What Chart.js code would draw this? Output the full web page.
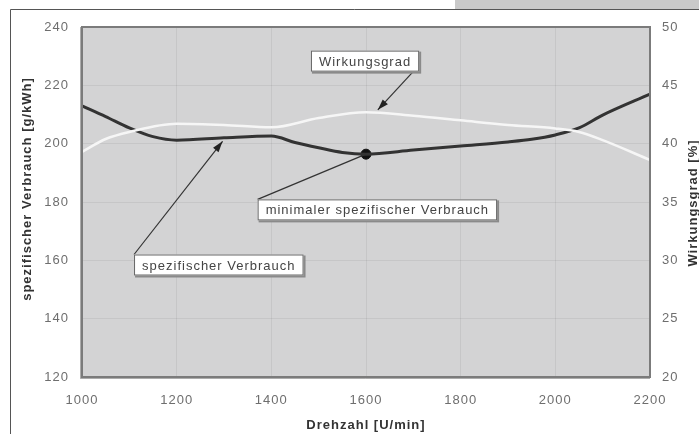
<!DOCTYPE html>
<html>
<head>
<meta charset="utf-8">
<script src="https://cdn.jsdelivr.net/npm/chart.js@4/dist/chart.umd.min.js"></script>
<style>
  html, body { margin: 0; padding: 0; background: #fff; }
  #wrap { position: relative; width: 699px; height: 434px; }
</style>
</head>
<body>
<div id="wrap"><canvas id="chart" width="699" height="434"></canvas></div>
<script>
// spezifischer Verbrauch [g/kWh] (linke Achse)
const rpmVerbrauch = [1000, 1050, 1100, 1150, 1200, 1300, 1400, 1450, 1500, 1550, 1600, 1700, 1800, 1900, 1950, 2000, 2050, 2100, 2200];
const verbrauch = [213, 209.3, 205.4, 202.4, 201.2, 202, 202.6, 200.4, 198.6, 197, 196.4, 197.8, 199.2, 200.6, 201.5, 203, 205.4, 209.8, 217];

// Wirkungsgrad [%] (rechte Achse)
const rpmWirkung = [1000, 1050, 1100, 1200, 1300, 1400, 1500, 1600, 1700, 1800, 1900, 2000, 2050, 2100, 2200];
const wirkung = [39.3, 40.4, 41.0, 41.7, 41.6, 41.4, 42.2, 42.7, 42.4, 42.0, 41.6, 41.3, 41.0, 40.3, 38.6];

// Minimum
const minRpm = [1600];
const minVerbrauch = [196.4];

const xTicks = [1000, 1200, 1400, 1600, 1800, 2000, 2200];
const yLeftTicks = [120, 140, 160, 180, 200, 220, 240];
const yRightTicks = [20, 25, 30, 35, 40, 45, 50];

// text boxes: centre in data units (x = rpm, y = left axis), target point
const notes = [
  { text: 'Wirkungsgrad', cx: 1598, cy: 228.3, from: 'br', tx: 1625, ty: 211.6, arrow: true },
  { text: 'minimaler spezifischer Verbrauch', cx: 1624, cy: 177.3, from: 'tl', tx: minRpm[0], ty: minVerbrauch[0], arrow: false },
  { text: 'spezifischer Verbrauch', cx: 1289, cy: 158.4, from: 'tl', tx: 1297, ty: 200.8, arrow: true }
];

const toXY = (xs, ys) => xs.map((x, i) => ({ x, y: ys[i] }));

const spacing = {
  id: 'spacing',
  beforeLayout(chart) { chart.ctx.letterSpacing = '1px'; },
  beforeDraw(chart) { chart.ctx.letterSpacing = '1px'; }
};

const frame = {
  id: 'frame',
  beforeDraw(chart) {
    const { ctx, chartArea: a } = chart;
    ctx.save();
    // outer frame
    ctx.fillStyle = '#c9c9c9';
    ctx.fillRect(455, 0, 244, 9);
    ctx.strokeStyle = '#555';
    ctx.lineWidth = 1;
    ctx.beginPath();
    ctx.moveTo(10.5, 434);
    ctx.lineTo(10.5, 9.5);
    ctx.lineTo(699, 9.5);
    ctx.stroke();
    // plot background
    ctx.fillStyle = '#d3d3d4';
    ctx.fillRect(a.left, a.top, a.right - a.left, a.bottom - a.top);
    ctx.restore();
  },
  afterDatasetsDraw(chart) {
    const { ctx, chartArea: a, scales } = chart;
    ctx.save();
    ctx.letterSpacing = '1px';
    // plot border
    ctx.strokeStyle = '#7b7b7b';
    ctx.lineWidth = 2;
    ctx.strokeRect(a.left, a.top, a.right - a.left, a.bottom - a.top);
    ctx.strokeStyle = 'rgba(90,90,90,0.5)';
    ctx.lineWidth = 1;
    ctx.beginPath();
    ctx.moveTo(a.left - 1.5, a.top);
    ctx.lineTo(a.left - 1.5, a.bottom + 1.5);
    ctx.lineTo(a.right, a.bottom + 1.5);
    ctx.stroke();

    // notes
    ctx.font = '13px "Liberation Sans", Arial, sans-serif';
    ctx.textBaseline = 'middle';
    ctx.textAlign = 'center';
    notes.forEach(n => {
      const cx = scales.x.getPixelForValue(n.cx);
      const cy = scales.y.getPixelForValue(n.cy);
      const w = ctx.measureText(n.text).width + 16;
      const h = 21;
      const l = cx - w / 2, t = cy - h / 2;
      const sx = n.from === 'br' ? l + w - 6 : l;
      const sy = n.from === 'br' ? t + h : t;
      const ex = scales.x.getPixelForValue(n.tx);
      const ey = scales.y.getPixelForValue(n.ty);
      ctx.strokeStyle = '#333';
      ctx.lineWidth = 1.2;
      ctx.beginPath();
      ctx.moveTo(sx, sy);
      ctx.lineTo(ex, ey);
      ctx.stroke();
      if (n.arrow) {
        const ang = Math.atan2(ey - sy, ex - sx);
        ctx.fillStyle = '#222';
        ctx.beginPath();
        ctx.moveTo(ex, ey);
        ctx.lineTo(ex - 11 * Math.cos(ang) + 3.5 * Math.sin(ang), ey - 11 * Math.sin(ang) - 3.5 * Math.cos(ang));
        ctx.lineTo(ex - 11 * Math.cos(ang) - 3.5 * Math.sin(ang), ey - 11 * Math.sin(ang) + 3.5 * Math.cos(ang));
        ctx.closePath();
        ctx.fill();
      }
      ctx.fillStyle = '#8a8a8a';
      ctx.fillRect(l + 1, t + 1, w + 1, h + 1);
      ctx.fillStyle = '#fff';
      ctx.fillRect(l, t, w, h);
      ctx.strokeStyle = '#666';
      ctx.lineWidth = 1;
      ctx.strokeRect(l + 0.5, t + 0.5, w - 1, h - 1);
      ctx.fillStyle = '#444';
      ctx.fillText(n.text, cx, cy + 1);
    });

    // axis titles
    ctx.fillStyle = '#333';
    ctx.font = 'bold 13px "Liberation Sans", Arial, sans-serif';
    ctx.fillText('Drehzahl [U/min]', (a.left + a.right) / 2, 425);
    ctx.save();
    ctx.translate(27, 189);
    ctx.rotate(-Math.PI / 2);
    ctx.fillText('spezifischer Verbrauch [g/kWh]', 0, 0);
    ctx.restore();
    ctx.save();
    ctx.translate(693, 203);
    ctx.rotate(-Math.PI / 2);
    ctx.fillText('Wirkungsgrad [%]', 0, 0);
    ctx.restore();
    ctx.restore();
  }
};

const tickFont = { family: '"Liberation Sans", Arial, sans-serif', size: 13 };
const tickColor = '#6e6e6e';
const gridColor = 'rgba(0,0,0,0.06)';

new Chart(document.getElementById('chart'), {
  type: 'line',
  data: {
    datasets: [
      {
        label: 'Wirkungsgrad',
        data: toXY(rpmWirkung, wirkung),
        yAxisID: 'y2',
        borderColor: '#f6f6f6',
        borderWidth: 2.5,
        pointRadius: 0,
        cubicInterpolationMode: 'monotone'
      },
      {
        label: 'spezifischer Verbrauch',
        data: toXY(rpmVerbrauch, verbrauch),
        yAxisID: 'y',
        borderColor: '#333',
        borderWidth: 3,
        pointRadius: 0,
        cubicInterpolationMode: 'monotone'
      },
      {
        label: 'Minimum',
        data: toXY(minRpm, minVerbrauch),
        yAxisID: 'y',
        showLine: false,
        pointRadius: 5,
        pointBackgroundColor: '#111',
        pointBorderColor: '#111'
      }
    ]
  },
  options: {
    responsive: false,
    animation: false,
    events: [],
    layout: { padding: { top: 27, left: 0, right: 0, bottom: 0 } },
    plugins: { legend: { display: false }, tooltip: { enabled: false } },
    scales: {
      x: {
        type: 'linear',
        min: xTicks[0],
        max: xTicks[xTicks.length - 1],
        afterBuildTicks: s => { s.ticks = xTicks.map(v => ({ value: v })); },
        afterFit: s => { s.height = 57; },
        ticks: { callback: v => String(v), font: tickFont, color: tickColor, padding: 16, maxRotation: 0 },
        grid: { color: gridColor, drawTicks: false },
        border: { display: false }
      },
      y: {
        position: 'left',
        min: yLeftTicks[0],
        max: yLeftTicks[yLeftTicks.length - 1],
        afterBuildTicks: s => { s.ticks = yLeftTicks.map(v => ({ value: v })); },
        afterFit: s => { s.width = 82; },
        ticks: { callback: v => String(v), font: tickFont, color: tickColor, padding: 13 },
        grid: { color: gridColor, drawTicks: false },
        border: { display: false }
      },
      y2: {
        position: 'right',
        min: yRightTicks[0],
        max: yRightTicks[yRightTicks.length - 1],
        afterBuildTicks: s => { s.ticks = yRightTicks.map(v => ({ value: v })); },
        afterFit: s => { s.width = 49; },
        ticks: { callback: v => String(v), font: tickFont, color: tickColor, padding: 12 },
        grid: { display: false, drawTicks: false },
        border: { display: false }
      }
    }
  },
  plugins: [spacing, frame]
});
</script>
</body>
</html>
